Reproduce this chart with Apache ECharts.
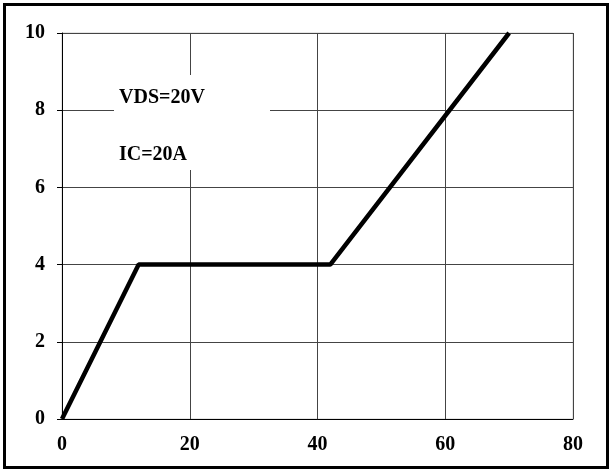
<!DOCTYPE html>
<html><head><meta charset="utf-8">
<script src="https://cdn.jsdelivr.net/npm/echarts@6/dist/echarts.min.js"></script>
<style>html,body{margin:0;padding:0;background:#fff}#c{width:611px;height:470px}</style>
</head><body><div id="c"></div>
<script>
const xValues = [0, 12, 42, 70];
const yValues = [0, 4, 4, 10];
const xTicks = [0, 20, 40, 60, 80];
const yTicks = [0, 2, 4, 6, 8, 10];
const annotations = ['VDS=20V', 'IC=20A'];

const chart = echarts.init(document.getElementById('c'));
const font = '"Liberation Serif", "DejaVu Serif", serif';
chart.setOption({
  animation: false,
  backgroundColor: '#fff',
  grid: {left: 62, right: 38, top: 33, bottom: 51, show: true, borderColor: '#cccccc', borderWidth: 1},
  xAxis: {
    type: 'value', min: xTicks[0], max: xTicks[xTicks.length-1], interval: 20,
    axisLine: {show: true, onZero: false, lineStyle: {color: '#000', width: 1}},
    axisTick: {show: false},
    splitLine: {show: true, lineStyle: {color: '#444', width: 1}},
    axisLabel: {color: '#000', fontFamily: font, fontWeight: 'bold', fontSize: 20, margin: 16}
  },
  yAxis: {
    type: 'value', min: yTicks[0], max: yTicks[yTicks.length-1], interval: 2,
    axisLine: {show: true, onZero: false, lineStyle: {color: '#000', width: 1}},
    axisTick: {show: true, inside: false, length: 5, lineStyle: {color: '#000'}},
    splitLine: {show: true, lineStyle: {color: '#444', width: 1}},
    axisLabel: {color: '#000', fontFamily: font, fontWeight: 'bold', fontSize: 20, margin: 17}
  },
  series: [{
    type: 'line',
    data: xValues.map((x, i) => [x, yValues[i]]),
    symbol: 'none',
    lineStyle: {color: '#000', width: 4.5},
    z: 5
  }],
  graphic: [
    {type: 'rect', shape: {x: 4.5, y: 4.5, width: 603, height: 463}, style: {fill: 'none', stroke: '#000', lineWidth: 3}, z: 10},
    {type: 'rect', shape: {x: 114, y: 75, width: 156, height: 95}, style: {fill: '#fff'}, z: 3},
    {type: 'text', x: 119, y: 88, style: {text: annotations[0], fill: '#000', font: 'bold 20px ' + font}, z: 4},
    {type: 'text', x: 119, y: 145, style: {text: annotations[1], fill: '#000', font: 'bold 20px ' + font}, z: 4}
  ]
});
</script></body></html>
